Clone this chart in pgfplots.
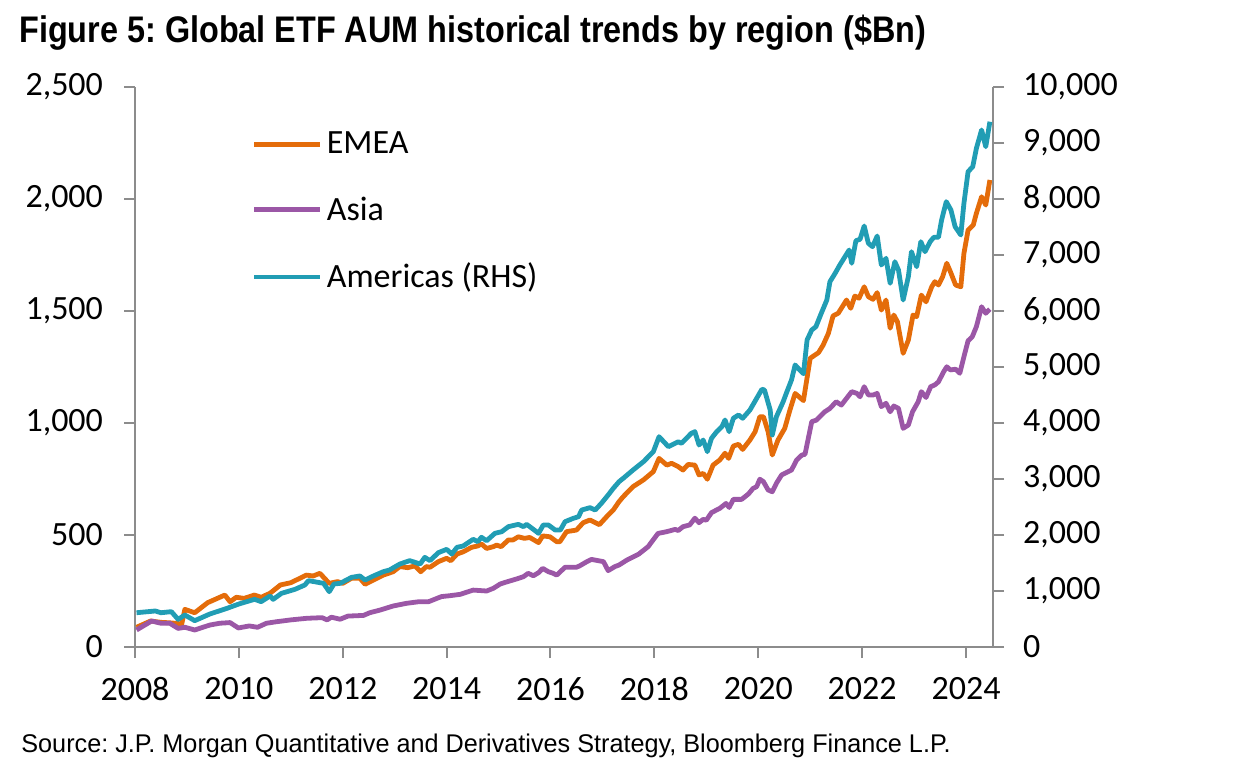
\documentclass[border=0pt]{standalone}
\usepackage{pgfplots}
\pgfplotsset{compat=1.18}
\usepackage{fontspec}
\setmainfont{Carlito}
\newfontfamily\narrow[FakeStretch=0.875]{Liberation Sans}
\newfontfamily\srcfont[FakeStretch=0.985]{Liberation Sans}
\frenchspacing
\definecolor{emea}{RGB}{228,108,10}
\definecolor{asia}{RGB}{155,87,166}
\definecolor{amer}{RGB}{33,157,180}
\definecolor{axgray}{RGB}{140,140,140}

\pgfplotstableread{
x y
2008.03 88
2008.30 116
2008.50 110
2008.67 108
2008.90 103
2008.96 168
2009.15 153
2009.40 198
2009.73 232
2009.83 202
2009.95 222
2010.10 217
2010.30 232
2010.43 222
2010.60 240
2010.80 277
2011.00 287
2011.30 321
2011.43 317
2011.56 329
2011.74 284
2011.90 292
2012.00 284
2012.17 307
2012.33 307
2012.43 280
2012.59 299
2012.78 321
2012.97 336
2013.10 359
2013.25 354
2013.39 362
2013.50 336
2013.61 359
2013.68 356
2013.84 381
2014.00 396
2014.08 385
2014.20 415
2014.32 425
2014.48 445
2014.60 451
2014.67 460
2014.77 440
2014.90 448
2014.96 455
2015.05 448
2015.19 478
2015.28 478
2015.38 492
2015.50 485
2015.60 489
2015.77 466
2015.85 496
2015.99 492
2016.12 470
2016.18 470
2016.31 515
2016.50 522
2016.63 555
2016.76 567
2016.94 546
2017.11 589
2017.21 612
2017.32 649
2017.40 671
2017.59 716
2017.79 746
2017.98 783
2018.09 842
2018.24 812
2018.33 820
2018.46 805
2018.55 790
2018.65 815
2018.78 812
2018.86 768
2018.94 775
2019.02 749
2019.13 812
2019.26 835
2019.36 865
2019.43 842
2019.52 897
2019.62 905
2019.70 882
2019.84 924
2019.94 961
2020.03 1028
2020.10 1028
2020.19 961
2020.27 857
2020.38 924
2020.51 976
2020.61 1058
2020.71 1132
2020.87 1100
2021.00 1289
2021.16 1314
2021.25 1348
2021.35 1400
2021.44 1478
2021.54 1490
2021.64 1527
2021.70 1549
2021.78 1512
2021.86 1567
2021.94 1557
2022.04 1608
2022.12 1564
2022.21 1552
2022.29 1582
2022.37 1504
2022.46 1549
2022.54 1423
2022.61 1482
2022.68 1452
2022.79 1311
2022.89 1370
2022.98 1482
2023.05 1475
2023.14 1571
2023.23 1541
2023.34 1608
2023.40 1631
2023.47 1616
2023.55 1653
2023.63 1713
2023.70 1675
2023.80 1616
2023.90 1608
2023.96 1757
2024.04 1861
2024.14 1884
2024.20 1936
2024.30 2010
2024.38 1973
2024.46 2085
}\emeadata

\pgfplotstableread{
x y
2008.03 76
2008.32 116
2008.50 106
2008.67 106
2008.83 83
2008.96 88
2009.15 76
2009.44 98
2009.63 106
2009.83 109
2009.99 85
2010.20 94
2010.36 88
2010.53 106
2010.73 113
2011.00 121
2011.30 128
2011.60 131
2011.70 121
2011.78 133
2011.95 124
2012.10 138
2012.40 141
2012.52 153
2012.72 165
2012.97 183
2013.23 195
2013.46 202
2013.65 202
2013.90 225
2014.06 229
2014.26 235
2014.51 254
2014.77 250
2014.90 262
2015.03 281
2015.12 288
2015.35 304
2015.48 314
2015.57 329
2015.67 318
2015.77 332
2015.85 351
2015.96 336
2016.05 329
2016.12 321
2016.28 356
2016.50 356
2016.56 362
2016.70 381
2016.79 391
2017.02 381
2017.11 341
2017.24 359
2017.32 366
2017.47 388
2017.70 415
2017.88 448
2018.07 507
2018.24 515
2018.40 525
2018.46 520
2018.55 537
2018.68 545
2018.78 575
2018.86 555
2018.94 570
2019.00 566
2019.10 600
2019.26 619
2019.38 641
2019.44 623
2019.52 659
2019.68 659
2019.81 683
2019.90 708
2019.97 716
2020.03 749
2020.10 738
2020.19 701
2020.27 693
2020.35 731
2020.45 768
2020.58 783
2020.64 790
2020.74 835
2020.84 857
2020.90 860
2021.03 1006
2021.12 1013
2021.28 1050
2021.38 1065
2021.50 1095
2021.60 1080
2021.70 1110
2021.80 1140
2021.90 1132
2021.96 1117
2022.04 1162
2022.12 1125
2022.21 1125
2022.29 1132
2022.37 1073
2022.46 1088
2022.54 1050
2022.61 1076
2022.70 1065
2022.79 976
2022.89 991
2022.97 1050
2023.08 1095
2023.14 1140
2023.23 1114
2023.32 1162
2023.40 1170
2023.47 1184
2023.57 1229
2023.63 1251
2023.70 1237
2023.80 1240
2023.88 1222
2023.96 1296
2024.04 1367
2024.12 1385
2024.20 1430
2024.30 1519
2024.38 1490
2024.46 1508
}\asiadata

\pgfplotstableread{
x y
2008.03 612
2008.39 643
2008.50 612
2008.70 631
2008.83 494
2008.96 571
2009.15 470
2009.44 589
2009.77 690
2010.00 768
2010.30 851
2010.43 810
2010.60 911
2010.66 851
2010.82 958
2011.08 1030
2011.27 1107
2011.34 1185
2011.63 1137
2011.74 988
2011.83 1125
2011.95 1137
2012.17 1244
2012.33 1268
2012.43 1196
2012.59 1268
2012.78 1345
2012.90 1375
2013.10 1482
2013.29 1542
2013.49 1482
2013.58 1601
2013.68 1542
2013.84 1684
2014.00 1744
2014.10 1661
2014.20 1780
2014.32 1804
2014.51 1923
2014.60 1881
2014.67 1959
2014.77 1898
2014.93 2030
2015.06 2059
2015.19 2149
2015.38 2190
2015.48 2149
2015.54 2190
2015.67 2101
2015.77 2030
2015.86 2178
2015.96 2178
2016.09 2089
2016.19 2089
2016.28 2238
2016.44 2298
2016.54 2327
2016.60 2446
2016.76 2488
2016.86 2446
2016.98 2566
2017.11 2714
2017.21 2834
2017.32 2952
2017.40 3012
2017.59 3161
2017.79 3309
2017.98 3488
2018.09 3755
2018.27 3577
2018.46 3666
2018.52 3636
2018.71 3815
2018.78 3845
2018.86 3607
2018.94 3696
2019.02 3488
2019.10 3727
2019.20 3845
2019.30 3934
2019.36 4054
2019.44 3845
2019.52 4084
2019.62 4143
2019.70 4084
2019.84 4232
2019.97 4441
2020.07 4602
2020.12 4590
2020.23 4232
2020.27 3786
2020.35 4113
2020.48 4381
2020.54 4530
2020.64 4768
2020.71 5036
2020.80 4946
2020.87 4880
2020.94 5482
2021.03 5661
2021.11 5720
2021.20 5929
2021.32 6196
2021.38 6523
2021.48 6673
2021.57 6821
2021.67 6970
2021.75 7089
2021.80 6852
2021.88 7255
2021.96 7280
2022.04 7518
2022.12 7209
2022.20 7148
2022.29 7339
2022.37 6821
2022.46 6941
2022.54 6494
2022.63 6880
2022.70 6732
2022.79 6196
2022.89 6613
2022.95 7059
2023.05 6791
2023.13 7238
2023.21 7059
2023.31 7238
2023.38 7316
2023.47 7316
2023.53 7625
2023.62 7952
2023.71 7804
2023.79 7506
2023.90 7357
2023.96 7923
2024.04 8488
2024.13 8577
2024.20 8905
2024.30 9232
2024.38 8934
2024.46 9380
}\amerdata

\begin{document}
\begin{tikzpicture}
\pgfplotsset{
  common/.style={
    scale only axis, width=429pt, height=280pt,
    at={(0,0)}, anchor=south west,
    xmin=2008, xmax=2024.52,
    axis line style={axgray, line width=1pt},
    every tick/.style={axgray, line width=1pt},
    tick align=outside, major tick length=5.5pt,
    /pgf/number format/assume math mode=true,
    tick label style={font=\fontsize{17}{20}\selectfont},
    scaled ticks=false,
  },
}
\begin{axis}[common,
  axis x line*=bottom, axis y line*=left,
  ymin=0, ymax=2500,
  xtick={2008,2010,...,2024},
  xticklabel style={/pgf/number format/1000 sep={}, /pgf/number format/precision=0, yshift=-6pt},
  ytick={0,500,...,2500},
  yticklabel style={/pgf/number format/1000 sep={,}, xshift=-7pt},
  legend style={at={(0.129,0.935)}, anchor=north west, draw=none, fill=none,
    font=\fontsize{17}{20}\selectfont, row sep=16pt},
  legend cell align=left,
  legend image code/.code={\draw[#1] (0pt,0pt) -- (33pt,0pt);},
]
\addplot[emea, line width=2.4pt, line join=round] table[x=x,y=y]{\emeadata};
\addlegendentry{EMEA}
\addplot[asia, line width=2.4pt, line join=round] table[x=x,y=y]{\asiadata};
\addlegendentry{Asia}
\addlegendimage{amer, line width=2.4pt}
\addlegendentry{Americas (RHS)}
\end{axis}
\begin{axis}[common,
  axis x line=none, axis y line*=right,
  ymin=0, ymax=10000,
  ytick={0,1000,...,10000},
  yticklabel style={/pgf/number format/1000 sep={,}, xshift=6pt},
]
\addplot[amer, line width=2.4pt, line join=round] table[x=x,y=y]{\amerdata};
\end{axis}
\node[anchor=base west, inner sep=0pt, font=\narrow\bfseries\fontsize{18.5}{22}\selectfont] at (-58pt,302pt) {Figure 5: Global ETF AUM historical trends by region (\$Bn)};
\node[anchor=base west, inner sep=0pt, font=\srcfont\fontsize{12.8}{15}\selectfont] at (-57pt,-52.5pt) {Source: J.P. Morgan Quantitative and Derivatives Strategy, Bloomberg Finance L.P.};
\pgfresetboundingbox
\path[use as bounding box] (-67.5pt,-66.5pt) rectangle (549.5pt,323.5pt);
\end{tikzpicture}
\end{document}
